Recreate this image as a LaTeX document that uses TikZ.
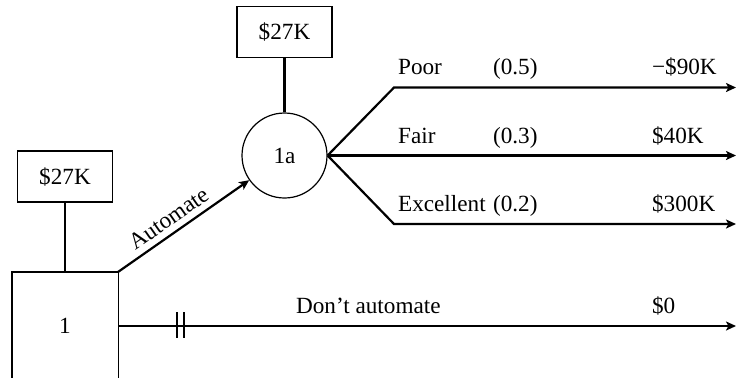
\documentclass[tikz,border=0pt]{standalone}
\usepackage{fontspec}
\setmainfont{Liberation Serif}
\usetikzlibrary{positioning, arrows.meta}

\tikzset{
    cost/.style={draw, line width=0.6pt, minimum width=47.5pt, minimum height=25.5pt},
    chance/.style={circle, draw, line width=0.6pt, minimum size=42.5pt},
    decision/.style={minimum width=52pt, minimum height=53pt},
    lbl/.style={anchor=base west}
}

\begin{document}
\begin{tikzpicture}[x=0.5pt, y=-0.5pt, >={Stealth[length=5pt, width=4.5pt, inset=1.2pt]},
        line width=1.1pt, font=\fontsize{11.6}{13}\selectfont,
        every node/.style={inner sep=0pt}]
    \clip (0,0) rectangle (737,377);

    % decision node and chance node with their costs
    \node[decision] (d_1) at (65,326) {1};
    \node[cost] (c_1) at (65,176.5) {\$27K};
    \node[chance] (n_1a) at (284.5,155.5) {1a};
    \node[cost] (c_1a) at (284.5,32) {\$27K};

    % bends and ends of the branches
    \coordinate (poor_k) at (394,87.5);
    \coordinate (exc_k) at (394,224);
    \coordinate (poor_e) at (736,87.5);
    \coordinate (fair_e) at (736,155.5);
    \coordinate (exc_e) at (736,224);
    \coordinate (dont_e) at (736,326);

    \draw[line width=0.6pt] (d_1.south west) -- (d_1.north west)
        -- (d_1.north east) -- (d_1.south east);
    \draw (c_1) -- (d_1);
    \draw (c_1a) -- (n_1a);

    \draw[->] (d_1.north east) -- node[sloped, above=3pt, pos=0.45] {Automate} (n_1a);
    \draw[->] (n_1a.east) -- (poor_k) -- (poor_e);
    \draw[->] (n_1a.east) -- (fair_e);
    \draw[->] (n_1a.east) -- (exc_k) -- (exc_e);
    \draw[->] (d_1.east) -- (dont_e);

    % pruned branch
    \foreach \x in {177,184}
        \draw[line width=0.6pt] (\x,312) -- (\x,338);

    % outcomes, probabilities and payoffs
    \node[lbl] (poor) at (397,74) {Poor};
    \node[lbl] (p_poor) at (492,74) {(0.5)};
    \node[lbl] (v_poor) at (651,74) {−\$90K};
    \node[lbl] (fair) at (397,143) {Fair};
    \node[lbl] (p_fair) at (492,143) {(0.3)};
    \node[lbl] (v_fair) at (651,143) {\$40K};
    \node[lbl] (exc) at (397,211) {Excellent};
    \node[lbl] (p_exc) at (492,211) {(0.2)};
    \node[lbl] (v_exc) at (651,211) {\$300K};
    \node[lbl] (dont) at (295,313) {Don’t automate};
    \node[lbl] (v_dont) at (651,313) {\$0};
\end{tikzpicture}
\end{document}
